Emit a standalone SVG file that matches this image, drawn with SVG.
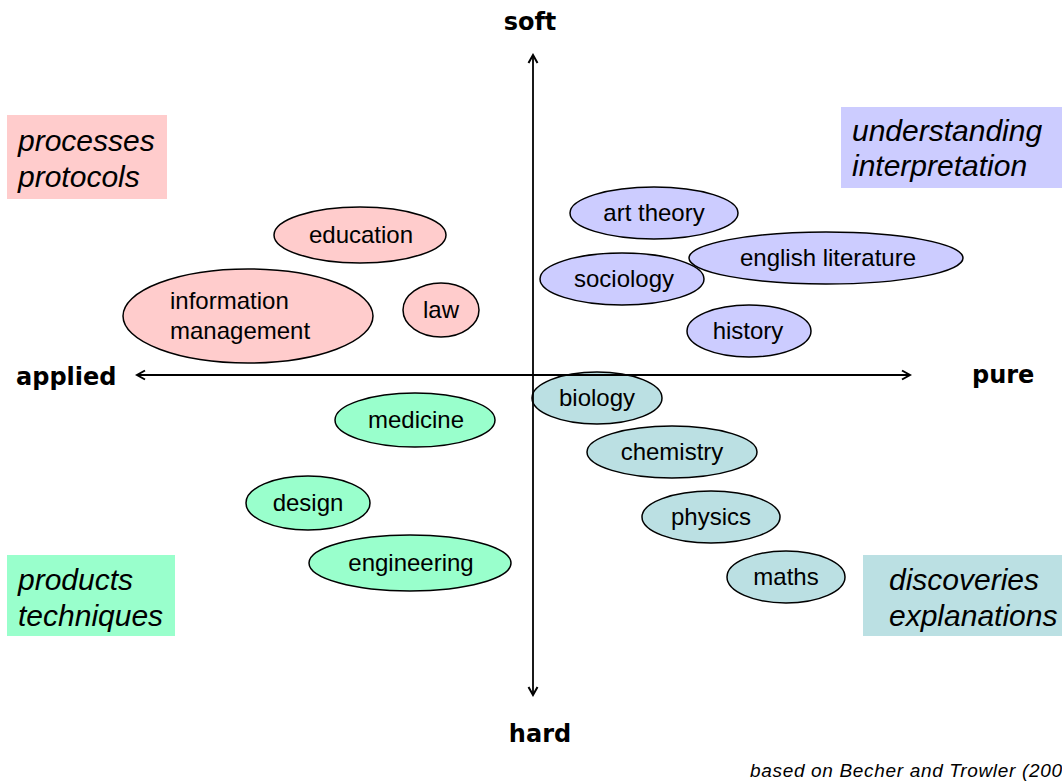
<svg xmlns="http://www.w3.org/2000/svg" width="1062" height="782" viewBox="0 0 1062 782">
<style>
.ell{stroke:#000;stroke-width:1.5}
.pink{fill:#FFCCCC}
.blue{fill:#CCCCFF}
.green{fill:#99FFCC}
.teal{fill:#BBE0E3}
.lbl{font-family:"Liberation Sans",Arial,sans-serif;font-size:24px;fill:#000;text-anchor:middle}
.lbll{font-family:"Liberation Sans",Arial,sans-serif;font-size:24px;fill:#000}
.box{font-family:"Liberation Sans",Arial,sans-serif;font-size:30px;font-style:italic;fill:#000}
.axis{font-family:"DejaVu Sans",Verdana,sans-serif;font-size:24px;font-weight:bold;fill:#000}
.ax{stroke:#000;stroke-width:1.8;fill:none}
</style>
<defs>
<marker id="arr" viewBox="0 0 12 12" refX="10" refY="6" markerWidth="12" markerHeight="12" markerUnits="userSpaceOnUse" orient="auto-start-reverse">
<path d="M2,1.5 L10,6 L2,10.5" fill="none" stroke="#000" stroke-width="2"/>
</marker>
</defs>
<rect width="1062" height="782" fill="#fff"/>

<g id="box-processes">
<rect x="7" y="115" width="160" height="84" fill="#FFCCCC"/>
<text class="box" x="18" y="151">processes</text>
<text class="box" x="18" y="187">protocols</text>
</g>
<g id="box-understanding">
<rect x="841" y="107" width="221" height="81" fill="#CCCCFF"/>
<text class="box" x="852" y="141">understanding</text>
<text class="box" x="852" y="176">interpretation</text>
</g>
<g id="box-products">
<rect x="7" y="555" width="168" height="81" fill="#99FFCC"/>
<text class="box" x="18" y="590">products</text>
<text class="box" x="18" y="626">techniques</text>
</g>
<g id="box-discoveries">
<rect x="863" y="555" width="199" height="81" fill="#BBE0E3"/>
<text class="box" x="889" y="590">discoveries</text>
<text class="box" x="889" y="626">explanations</text>
</g>

<g id="node-education"><ellipse class="ell pink" cx="360" cy="235" rx="86" ry="28"/><text class="lbl" x="361" y="243">education</text></g>
<g id="node-information-management"><ellipse class="ell pink" cx="248" cy="316" rx="125" ry="47"/><text class="lbll" x="170" y="309">information</text><text class="lbll" x="170" y="339">management</text></g>
<g id="node-law"><ellipse class="ell pink" cx="441" cy="310" rx="38" ry="27"/><text class="lbl" x="441" y="318">law</text></g>

<g id="node-art-theory"><ellipse class="ell blue" cx="654" cy="213" rx="84" ry="26"/><text class="lbl" x="654" y="221">art theory</text></g>
<g id="node-sociology"><ellipse class="ell blue" cx="622" cy="279" rx="82" ry="26"/><text class="lbl" x="624" y="287">sociology</text></g>
<g id="node-english-literature"><ellipse class="ell blue" cx="826" cy="258" rx="137" ry="26"/><text class="lbl" x="828" y="266">english literature</text></g>
<g id="node-history"><ellipse class="ell blue" cx="749" cy="331" rx="62" ry="26"/><text class="lbl" x="748" y="339">history</text></g>

<g id="node-biology"><ellipse class="ell teal" cx="597" cy="398" rx="65" ry="26"/><text class="lbl" x="597" y="406">biology</text></g>
<g id="node-chemistry"><ellipse class="ell teal" cx="672" cy="452" rx="85" ry="26"/><text class="lbl" x="672" y="460">chemistry</text></g>
<g id="node-physics"><ellipse class="ell teal" cx="711" cy="517" rx="69" ry="26"/><text class="lbl" x="711" y="525">physics</text></g>
<g id="node-maths"><ellipse class="ell teal" cx="786" cy="577" rx="59" ry="26"/><text class="lbl" x="786" y="585">maths</text></g>

<g id="node-medicine"><ellipse class="ell green" cx="415" cy="420" rx="80" ry="27"/><text class="lbl" x="416" y="428">medicine</text></g>
<g id="node-design"><ellipse class="ell green" cx="308" cy="503" rx="62" ry="27"/><text class="lbl" x="308" y="511">design</text></g>
<g id="node-engineering"><ellipse class="ell green" cx="410" cy="563" rx="101" ry="28"/><text class="lbl" x="411" y="571">engineering</text></g>

<g id="connectors">
<line class="ax" x1="533" y1="55" x2="533" y2="695" marker-start="url(#arr)" marker-end="url(#arr)"/>
<line class="ax" x1="137" y1="375" x2="910" y2="375" marker-start="url(#arr)" marker-end="url(#arr)"/>
</g>

<g id="axis-labels">
<text class="axis" x="530" y="30" text-anchor="middle">soft</text>
<text class="axis" x="540" y="742" text-anchor="middle">hard</text>
<text class="axis" x="16" y="385">applied</text>
<text class="axis" x="972" y="383">pure</text>
</g>
<text x="750" y="777" font-family="Liberation Sans, Arial, sans-serif" font-size="19" font-style="italic" fill="#000" textLength="312" lengthAdjust="spacing">based on Becher and  Trowler (200</text>
</svg>
